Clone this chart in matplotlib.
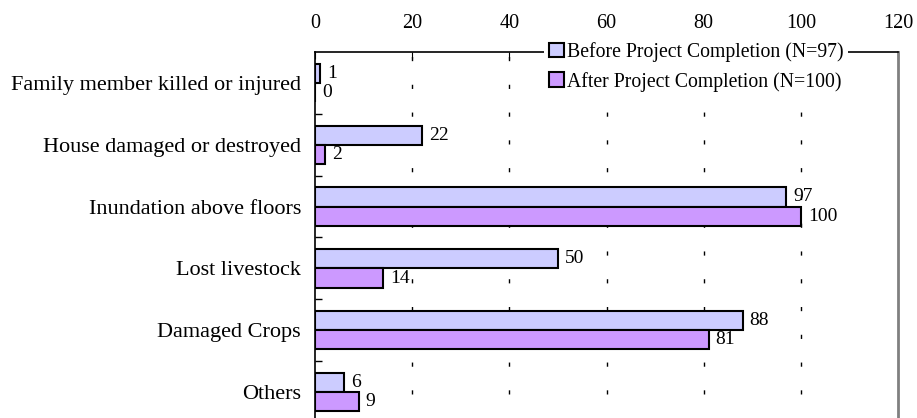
import matplotlib
matplotlib.use("Agg")
import matplotlib.pyplot as plt
from matplotlib.patches import Patch
import numpy as np

plt.rcParams['font.family'] = ['Liberation Serif', 'DejaVu Serif']

categories = ["Family member killed or injured", "House damaged or destroyed",
              "Inundation above floors", "Lost livestock", "Damaged Crops", "Others"]
before = [1, 22, 97, 50, 88, 6]
after = [0, 2, 100, 14, 81, 9]
series_names = ["Before Project Completion (N=97)", "After Project Completion (N=100)"]
colors = ["#CCCCFF", "#CC99FF"]

fig = plt.figure(figsize=(9.17, 4.18), dpi=100)
ax = fig.add_axes([315/917, 1 - 423/418, (898 - 315)/917, (423 - 52)/418])

y = np.arange(len(categories))
h = 0.31
ax.barh(y - h/2, before, height=h, color=colors[0], edgecolor='black', linewidth=1.5, zorder=3)
ax.barh(y + h/2, after, height=h, color=colors[1], edgecolor='black', linewidth=1.5, zorder=3)

for yi, b, a in zip(y, before, after):
    ax.annotate(str(b), (b, yi - h/2), xytext=(5, 0), textcoords='offset points',
                va='center', ha='left', fontsize=14)
    ax.annotate(str(a), (a, yi + h/2), xytext=(5, 0), textcoords='offset points',
                va='center', ha='left', fontsize=14)

ax.set_xlim(0, 120)
ax.set_ylim(len(categories) - 0.5, -0.5)
ax.set_xticks(np.arange(0, 121, 20))
ax.xaxis.tick_top()
ax.tick_params(axis='x', direction='in', length=5, labelsize=14.5, pad=14, top=True, bottom=False)

# category labels on major ticks, small marks at the boundaries between groups
ax.set_yticks(y)
ax.set_yticklabels(categories, fontsize=16)
ax.tick_params(axis='y', length=0, pad=10)
ax.set_yticks(np.arange(0.5, len(categories) - 0.5, 1), minor=True)
ax.tick_params(axis='y', which='minor', direction='in', length=5, width=1)

for gx in range(20, 101, 20):
    ax.axvline(gx, color='black', linewidth=1, linestyle=(2, (3, 17)), zorder=1)

ax.spines['top'].set_linewidth(1.2)
ax.spines['left'].set_linewidth(1.2)
ax.spines['right'].set_color('#808080')
ax.spines['right'].set_linewidth(2)
ax.spines['bottom'].set_visible(False)

handles = [Patch(facecolor=c, edgecolor='black', linewidth=1.5) for c in colors]
leg = fig.legend(handles, series_names, loc='upper left',
                 bbox_to_anchor=(544/917, 1 - 37/418), fontsize=14.2,
                 frameon=True, fancybox=False, framealpha=1, facecolor='white',
                 edgecolor='none', borderpad=0.25, borderaxespad=0,
                 handlelength=0.76, handleheight=0.76, handletextpad=0.15,
                 labelspacing=0.5)

fig.savefig("out.png", dpi=100)
